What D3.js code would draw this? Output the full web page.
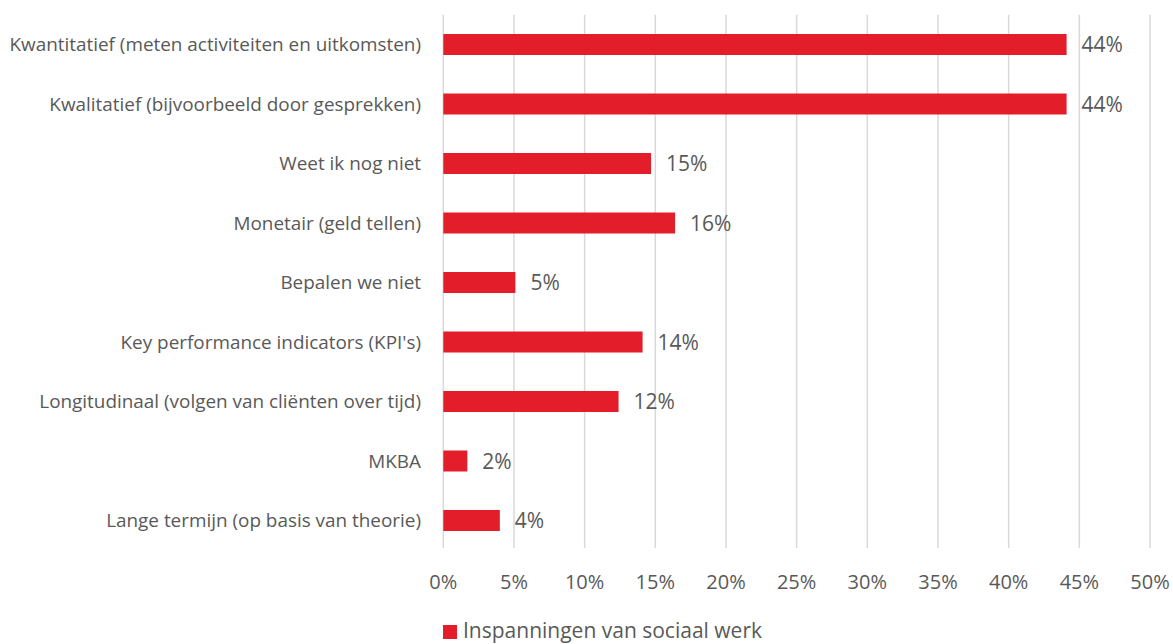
<!DOCTYPE html>
<html>
<head>
<meta charset="utf-8">
<script src="https://cdn.jsdelivr.net/npm/d3@7"></script>
<style>
  html, body { margin: 0; padding: 0; background: #fff; }
  svg { display: block; }
  text { font-family: "Open Sans", sans-serif; fill: #595959; }
</style>
</head>
<body>
<svg id="chart" width="1173" height="644"></svg>
<script>
const categories = [
  "Kwantitatief (meten activiteiten en uitkomsten)",
  "Kwalitatief (bijvoorbeeld door gesprekken)",
  "Weet ik nog niet",
  "Monetair (geld tellen)",
  "Bepalen we niet",
  "Key performance indicators (KPI's)",
  "Longitudinaal (volgen van cliënten over tijd)",
  "MKBA",
  "Lange termijn (op basis van theorie)"
];
const values = [44.1, 44.1, 14.7, 16.4, 5.1, 14.1, 12.4, 1.7, 4.0];
const valueLabels = ["44%", "44%", "15%", "16%", "5%", "14%", "12%", "2%", "4%"];
const tickValues = [0, 5, 10, 15, 20, 25, 30, 35, 40, 45, 50];
const seriesName = "Inspanningen van sociaal werk";

const svg = d3.select("#chart");
const barColor = "#E31E2A";
const gridColor = "#D9D9D9";

const x = d3.scaleLinear().domain([0, 50]).range([443.3, 1150]);
const y = d3.scaleBand().domain(categories).range([14.75, 550.25])
  .paddingInner(0.647).paddingOuter(0.3235);

// gridlines
svg.append("g").selectAll("line").data(tickValues).join("line")
  .attr("x1", d => x(d)).attr("x2", d => x(d))
  .attr("y1", 14.75).attr("y2", 548)
  .attr("stroke", gridColor).attr("stroke-width", 1.5);

// x tick labels
svg.append("g").selectAll("text").data(tickValues).join("text")
  .attr("x", d => x(d)).attr("y", 589)
  .attr("text-anchor", "middle")
  .style("font-size", "20px")
  .text(d => d + "%");

// bars
const data = categories.map((c, i) => ({c, v: values[i], l: valueLabels[i]}));
svg.append("g").selectAll("rect").data(data).join("rect")
  .attr("x", x(0)).attr("y", d => y(d.c))
  .attr("width", d => x(d.v) - x(0)).attr("height", y.bandwidth())
  .attr("fill", barColor);

// value labels
svg.append("g").selectAll("text").data(data).join("text")
  .attr("x", d => x(d.v) + 15)
  .attr("y", d => y(d.c) + y.bandwidth() / 2)
  .attr("dy", "0.37em")
  .style("font-size", "21px")
  .text(d => d.l);

// category labels
svg.append("g").selectAll("text").data(data).join("text")
  .attr("x", 421)
  .attr("y", d => y(d.c) + y.bandwidth() / 2)
  .attr("dy", "0.36em")
  .attr("text-anchor", "end")
  .style("font-size", "18.9px")
  .text(d => d.c);

// legend
const lg = svg.append("g");
lg.append("rect").attr("x", 443).attr("y", 625).attr("width", 14).attr("height", 14).attr("fill", barColor);
lg.append("text").attr("x", 463).attr("y", 638).style("font-size", "21px").text(seriesName);
</script>
</body>
</html>
